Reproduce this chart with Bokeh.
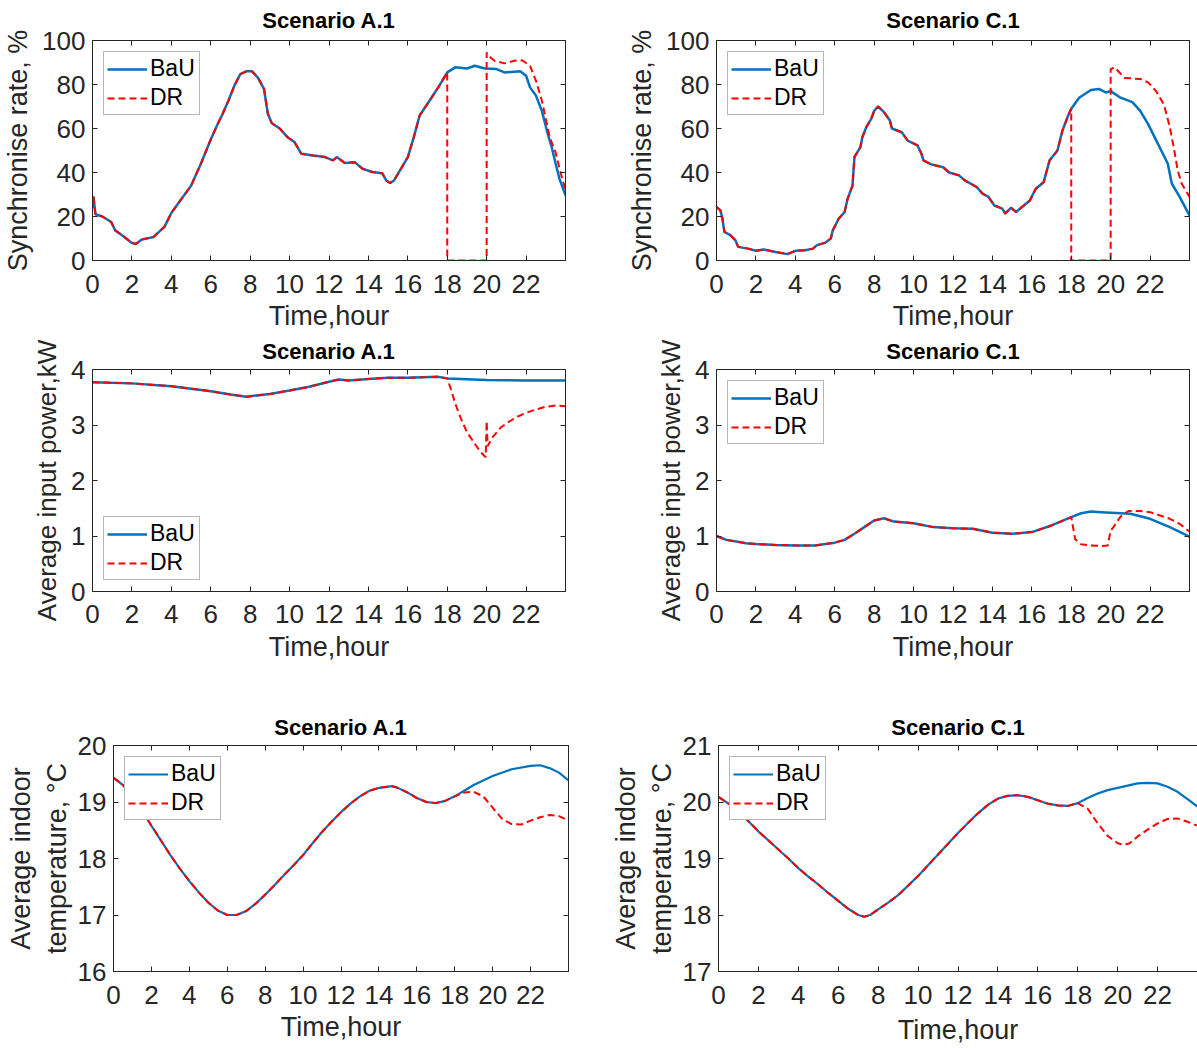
from bokeh.plotting import figure
from bokeh.models import Range1d, FixedTicker, LinearAxis, Title
from bokeh.layouts import row, column
from bokeh.embed import file_html
from bokeh.resources import INLINE

# ---------------- data ----------------
hour_ticks = [0, 2, 4, 6, 8, 10, 12, 14, 16, 18, 20, 22]

# Scenario A.1 - synchronise rate, %
a1_sync_h = [0, 0.05, 0.15, 0.5, 0.95, 1.15, 1.5, 2.0, 2.2, 2.5, 3.1, 3.65, 4.0, 4.4, 5.0, 5.5,
             6.0, 6.3, 6.6, 6.9, 7.2, 7.5, 7.8, 8.1, 8.4, 8.7, 8.9, 9.1, 9.5, 9.9, 10.25, 10.6,
             11.2, 11.8, 12.2, 12.4, 12.8, 13.3, 13.7, 14.2, 14.7, 14.9, 15.1, 15.3, 15.7, 16.0,
             16.3, 16.6, 17.2, 17.6, 18.0, 18.4, 19.0, 19.4, 19.9, 20.5, 20.9, 21.7, 22.0, 22.2,
             22.5, 22.8, 23.1, 23.3, 23.5, 23.7, 24.0]
a1_sync_bau = [24, 29, 21, 20, 17.5, 13.7, 11.5, 8, 7.5, 9.5, 10.7, 15.3, 21.6, 26.6, 34, 44,
               55, 61, 66.6, 72.7, 79.5, 84.7, 86, 86, 83, 78, 66.6, 62.4, 60, 56, 53.8, 48.5,
               47.7, 47, 45.5, 47, 44.3, 44.7, 41.7, 40.2, 39.7, 36.4, 35.2, 36.4, 42.4, 47,
               56, 65.9, 74, 79.5, 85.5, 87.8, 87.3, 88.5, 87.3, 87, 85.5, 86, 84, 78.7,
               75, 68, 57.5, 51.5, 44, 37, 29.6]
a1_sync_dr_h = [18.0, 18.0, 20.0, 20.0, 20.1, 20.4, 20.9, 21.4, 21.8, 22.2, 22.5, 22.8, 23.2, 23.5, 23.7, 24.0]
a1_sync_dr = [85.5, 0, 0, 94.6, 93, 90.8, 89.6, 90.8, 91, 88.5, 81.7, 72.7, 56, 49, 41.7, 31.9]

# Scenario C.1 - synchronise rate, %
c1_sync_h = [0, 0.2, 0.3, 0.4, 0.7, 0.96, 1.1, 1.6, 2.0, 2.4, 3.0, 3.6, 4.0, 4.5, 4.9, 5.1, 5.5,
             5.8, 5.9, 6.2, 6.5, 6.65, 6.9, 7.0, 7.3, 7.4, 7.6, 7.85, 8.0, 8.2, 8.5, 8.8, 8.9,
             9.4, 9.7, 10.2, 10.4, 10.5, 10.9, 11.5, 11.8, 12.3, 12.6, 13.2, 13.5, 13.8, 14.1,
             14.5, 14.65, 14.95, 15.2, 15.5, 15.9, 16.2, 16.6, 16.9, 17.3, 17.55, 17.85, 18.0,
             18.4, 19.0, 19.4, 19.75, 20.0, 20.5, 21.1, 21.5, 21.9, 22.4, 22.9, 23.1, 23.5, 24.0]
c1_sync_bau = [24.3, 22.8, 19, 13, 11.5, 9.2, 6.2, 5.4, 4.4, 5, 3.9, 2.9, 4.4, 4.7, 5.4, 7, 8,
               10, 13.7, 19, 22, 28, 34, 47, 51.5, 56, 60.6, 64.4, 68, 70, 67.4, 63.6, 60,
               58.3, 54.5, 52.3, 48.5, 45.5, 43.7, 42.4, 40, 38.7, 36.4, 33.4, 30.4, 28.9, 25,
               23.6, 21.3, 24, 22, 24.3, 27.3, 32.6, 35.6, 45.5, 50, 59, 66, 69,
               74, 77.5, 78, 76.4, 77, 74, 72, 68, 62, 53, 44, 35, 28.9, 20.5]
c1_sync_dr_h = [18.0, 18.0, 20.0, 20.0, 20.2, 20.7, 21.5, 21.9, 22.3, 22.7, 23.0, 23.2, 23.4, 23.6, 24.0]
c1_sync_dr = [69, 0, 0, 87, 87.8, 83, 82.5, 81, 77, 71, 60.6, 51.5, 41, 35, 28.9]

# Scenario A.1 - average input power, kW
a1_pow_h = [0, 2, 4, 6, 7, 7.8, 9, 10, 11, 12, 12.5, 13, 14, 15, 16, 17.5, 18, 20, 22, 24]
a1_pow_bau = [3.77, 3.75, 3.70, 3.61, 3.55, 3.51, 3.56, 3.62, 3.69, 3.78, 3.82, 3.80, 3.83,
              3.85, 3.85, 3.87, 3.84, 3.81, 3.80, 3.80]
a1_pow_dr_h = [18.0, 18.2, 18.4, 18.7, 19.0, 19.4, 19.7, 19.95, 20.0, 20.05, 20.3, 20.7, 21.0,
               21.5, 22.0, 22.5, 23.0, 23.5, 24.0]
a1_pow_dr = [3.84, 3.63, 3.39, 3.11, 2.87, 2.66, 2.51, 2.42, 3.07, 2.62, 2.78, 2.95, 3.03,
             3.14, 3.22, 3.28, 3.33, 3.35, 3.34]

# Scenario C.1 - average input power, kW
c1_pow_h = [0, 0.5, 1, 1.5, 2, 3, 4, 5, 6, 6.5, 7, 7.5, 8, 8.5, 9, 10, 11, 12, 13, 14, 15, 16,
            17, 18, 18.5, 19, 19.5, 20, 21, 22, 23, 24]
c1_pow_bau = [1.0, 0.93, 0.90, 0.87, 0.855, 0.84, 0.83, 0.83, 0.88, 0.93, 1.04, 1.16, 1.28,
              1.32, 1.26, 1.23, 1.16, 1.14, 1.13, 1.06, 1.04, 1.07, 1.19, 1.34, 1.41, 1.44,
              1.43, 1.42, 1.40, 1.31, 1.16, 0.99]
c1_pow_dr_h = [18.0, 18.2, 18.5, 19.0, 19.5, 19.85, 20.0, 20.1, 20.5, 20.9, 21.5, 22.0, 22.5,
               23.0, 23.5, 24.0]
c1_pow_dr = [1.34, 0.94, 0.85, 0.83, 0.82, 0.83, 1.10, 1.14, 1.35, 1.45, 1.45, 1.43, 1.37,
             1.31, 1.22, 1.08]

# Scenario A.1 - average indoor temperature, degC
a1_temp_h = [0, 0.5, 1, 1.5, 2, 2.5, 3, 3.5, 4, 4.5, 5, 5.5, 6, 6.5, 7, 7.5, 8, 8.5, 9, 9.5,
             10, 10.5, 11, 11.5, 12, 12.5, 13, 13.5, 14, 14.7, 15, 15.5, 16, 16.5, 17, 17.5,
             18, 18.5, 19, 20, 21, 22, 22.5, 23, 23.5, 24]
a1_temp_bau = [19.43, 19.3, 19.1, 18.85, 18.58, 18.32, 18.06, 17.82, 17.6, 17.4, 17.22, 17.08,
               17.0, 17.0, 17.07, 17.2, 17.36, 17.53, 17.71, 17.88, 18.06, 18.27, 18.47, 18.65,
               18.82, 18.97, 19.1, 19.2, 19.25, 19.28, 19.25, 19.17, 19.07, 19.0, 18.98, 19.02,
               19.1, 19.2, 19.3, 19.46, 19.58, 19.64, 19.65, 19.6, 19.52, 19.38]
a1_temp_dr_h = [18.0, 18.5, 19.0, 19.5, 20.0, 20.5, 21.0, 21.5, 22.0, 22.5, 23.0, 23.5, 24.0]
a1_temp_dr = [19.1, 19.17, 19.18, 19.1, 18.9, 18.7, 18.61, 18.6, 18.67, 18.73, 18.77, 18.75, 18.67]

# Scenario C.1 - average indoor temperature, degC
c1_temp_h = [0, 0.5, 1, 1.5, 2, 2.5, 3, 3.5, 4, 4.5, 5, 5.5, 6, 6.5, 7, 7.3, 7.6, 8, 8.5, 9,
             9.5, 10, 10.5, 11, 11.5, 12, 12.5, 13, 13.5, 14, 14.5, 15, 15.5, 16, 16.5, 17,
             17.5, 18, 18.5, 19, 19.5, 20, 20.5, 21, 21.5, 22, 22.5, 23, 23.5, 24]
c1_temp_bau = [20.09, 19.97, 19.83, 19.66, 19.48, 19.32, 19.16, 19.0, 18.83, 18.68, 18.54,
               18.39, 18.25, 18.11, 18.0, 17.97, 18.0, 18.1, 18.22, 18.35, 18.52, 18.69, 18.88,
               19.07, 19.26, 19.45, 19.63, 19.8, 19.95, 20.06, 20.11, 20.12, 20.09, 20.03,
               19.97, 19.94, 19.93, 19.98, 20.07, 20.15, 20.21, 20.25, 20.29, 20.33, 20.34,
               20.33, 20.27, 20.18, 20.05, 19.92]
c1_temp_dr_h = [18.0, 18.5, 19.0, 19.5, 20.0, 20.3, 20.6, 21.0, 21.5, 22.0, 22.5, 23.0, 23.5, 24.0]
c1_temp_dr = [19.98, 19.88, 19.62, 19.4, 19.27, 19.24, 19.27, 19.39, 19.51, 19.62, 19.70,
              19.71, 19.65, 19.58]

# ---------------- styling ----------------
FONT = "Liberation Sans"
AXC = "#262626"
BLUE = "#0072BD"
RED = "#FF0000"


def dr_series(h, bau, tail_h, tail_v):
    hh = [x for x in h if x < tail_h[0]]
    vv = [v for x, v in zip(h, bau) if x < tail_h[0]]
    return hh + list(tail_h), vv + list(tail_v)


def style_axis(ax, labels=True):
    ax.axis_line_color = AXC
    ax.axis_line_width = 1
    ax.major_tick_line_color = AXC
    ax.major_tick_in = 5
    ax.major_tick_out = 0
    ax.minor_tick_line_color = None
    ax.minor_tick_in = 0
    ax.minor_tick_out = 0
    ax.major_label_text_font = FONT
    ax.axis_label_text_font = FONT
    ax.axis_label_text_color = AXC
    ax.axis_label_text_font_style = "normal"
    if labels:
        ax.major_label_text_color = AXC
        ax.major_label_text_font_size = "26px"
        ax.axis_label_text_font_size = "27px"
    else:
        ax.major_label_text_color = None
        ax.major_label_text_font_size = "0px"
        ax.major_label_standoff = 0


def panel(w, h, ml, mr, mt, mb, yr, yticks, title, ylabel, h_data, bau, tail_h, tail_v,
          legend_loc, lw, ylabel_standoff=6, right_axis=True, title_standoff=12,
          xs1=14, xs2=5, ylabel_size="27px"):
    p = figure(width=w, height=h, output_backend="svg", toolbar_location=None,
               x_range=Range1d(0, 24), y_range=Range1d(*yr),
               min_border_left=ml, min_border_right=mr, min_border_top=mt, min_border_bottom=mb)
    p.grid.visible = False
    p.outline_line_color = AXC if right_axis else None
    p.background_fill_color = "white"
    p.border_fill_color = "white"

    xa = p.xaxis[0]
    ya = p.yaxis[0]
    xa.ticker = FixedTicker(ticks=hour_ticks)
    ya.ticker = FixedTicker(ticks=yticks)
    style_axis(xa)
    style_axis(ya)
    xa.axis_label = "Time,hour"
    xa.major_label_standoff = xs1
    xa.axis_label_standoff = xs2
    ya.axis_label = ylabel
    ya.axis_label_text_font_size = ylabel_size
    ya.major_label_standoff = 7
    ya.axis_label_standoff = ylabel_standoff
    ya.axis_label_text_line_height = 1.2

    top = LinearAxis(ticker=FixedTicker(ticks=hour_ticks))
    style_axis(top, labels=False)
    p.add_layout(top, "above")
    if right_axis:
        rgt = LinearAxis(ticker=FixedTicker(ticks=yticks))
        style_axis(rgt, labels=False)
        p.add_layout(rgt, "right")

    p.add_layout(Title(text=title, align="center", vertical_align="top",
                       standoff=title_standoff, text_font=FONT, text_font_size="22px",
                       text_font_style="bold", text_color="#000000"), "above")

    dh, dv = dr_series(h_data, bau, tail_h, tail_v)
    p.line(h_data, bau, line_color=BLUE, line_width=lw, legend_label="BaU")
    p.line(dh, dv, line_color=RED, line_width=2, line_dash="7 4", legend_label="DR")

    lg = p.legend[0]
    lg.location = legend_loc
    lg.margin = 11
    lg.padding = 3
    lg.spacing = 2
    lg.glyph_width = 40
    lg.glyph_height = 24
    lg.label_height = 24
    lg.label_width = 46
    lg.label_standoff = 3
    lg.label_text_font = FONT
    lg.label_text_font_size = "23px"
    lg.label_text_color = "#000000"
    lg.border_line_color = "#6e6e6e"
    lg.border_line_width = 1.3
    lg.background_fill_alpha = 1
    return p


p1 = panel(600, 333, 92, 35, 40, 73, (0, 100), [0, 20, 40, 60, 80, 100], "Scenario A.1",
           "Synchronise rate, %", a1_sync_h, a1_sync_bau, a1_sync_dr_h, a1_sync_dr, "top_left", 2.5)
p2 = panel(597, 333, 116, 8, 40, 73, (0, 100), [0, 20, 40, 60, 80, 100], "Scenario C.1",
           "Synchronise rate, %", c1_sync_h, c1_sync_bau, c1_sync_dr_h, c1_sync_dr, "top_left", 2.5)
p3 = panel(600, 357, 92, 35, 36, 99, (0, 4), [0, 1, 2, 3, 4], "Scenario A.1",
           "Average input power,kW", a1_pow_h, a1_pow_bau, a1_pow_dr_h, a1_pow_dr, "bottom_left", 2.5,
           title_standoff=8, xs1=13, xs2=6, ylabel_size="26px")
p4 = panel(597, 357, 116, 8, 36, 99, (0, 4), [0, 1, 2, 3, 4], "Scenario C.1",
           "Average input power,kW", c1_pow_h, c1_pow_bau, c1_pow_dr_h, c1_pow_dr, "top_left", 2.5,
           title_standoff=8, xs1=13, xs2=6, ylabel_size="26px")
p5 = panel(600, 358, 113, 32, 55, 73, (16, 20), [16, 17, 18, 19, 20], "Scenario A.1",
           "Average indoor\ntemperature, \u00b0C", a1_temp_h, a1_temp_bau, a1_temp_dr_h, a1_temp_dr,
           "top_left", 2.2, ylabel_standoff=3, title_standoff=8, xs1=14, xs2=5)
p6 = panel(597, 358, 118, 0, 53, 77, (17, 21), [17, 18, 19, 20, 21], "Scenario C.1",
           "Average indoor\ntemperature, \u00b0C", c1_temp_h, c1_temp_bau, c1_temp_dr_h, c1_temp_dr,
           "top_left", 2.2, ylabel_standoff=3, right_axis=False, title_standoff=8, xs1=14, xs2=8)

layout = column(row(p1, p2), row(p3, p4), row(p5, p6))
open("out.html", "w").write(file_html(layout, INLINE))
